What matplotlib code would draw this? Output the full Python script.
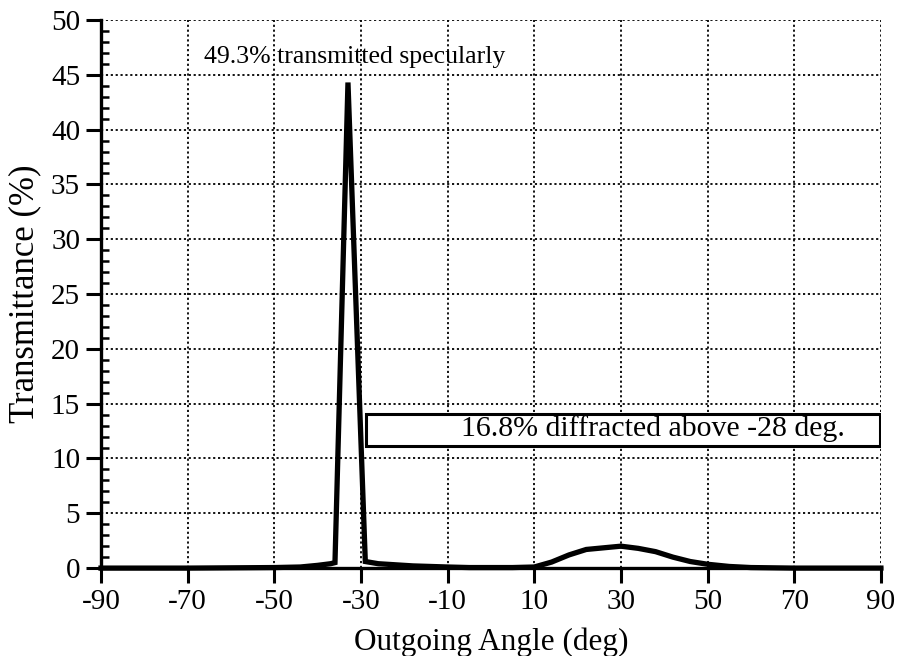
import numpy as np
import matplotlib.pyplot as plt
from matplotlib.patches import Rectangle
from matplotlib.ticker import MultipleLocator

plt.rcParams['font.family'] = ['Liberation Serif', 'DejaVu Serif']
plt.rcParams['axes.unicode_minus'] = False

# outgoing angle (deg) and transmittance (%)
angle = [-90, -70, -50, -44, -40, -37, -36, -33, -29, -26, -22, -18, -14, -10,
         -5, 0, 5, 10, 14, 18, 22, 26, 30, 34, 38, 42, 46, 50, 55, 60, 70, 80, 90]
trans = [0.0, 0.0, 0.05, 0.1, 0.25, 0.4, 0.5, 44.3, 0.6, 0.4, 0.3, 0.2, 0.15, 0.1,
         0.05, 0.05, 0.05, 0.1, 0.55, 1.2, 1.7, 1.85, 2.0, 1.8, 1.5, 1.0, 0.6, 0.35, 0.15, 0.05, 0.0, 0.0, 0.0]

xticks = [-90, -70, -50, -30, -10, 10, 30, 50, 70, 90]
yticks = [0, 5, 10, 15, 20, 25, 30, 35, 40, 45, 50]

fig = plt.figure(figsize=(9.1, 6.56), dpi=100)
ax = fig.add_axes([0.111, 0.134, 0.857, 0.8355])

ax.plot(angle, trans, 'k-', linewidth=3.8, solid_joinstyle='miter', zorder=5, clip_on=False)

ax.set_xlim(-90, 90)
ax.set_ylim(0, 50)
ax.set_xticks(xticks)
ax.set_yticks(yticks)
ax.yaxis.set_minor_locator(MultipleLocator(1))
ax.grid(True, which='major', color='black', linestyle=(0, (1.2, 1.5)), linewidth=1.3)

for s in ['top', 'right']:
    ax.spines[s].set_visible(False)
ax.spines['left'].set_linewidth(2.4)
ax.spines['bottom'].set_linewidth(2.4)

ax.tick_params(axis='both', which='major', labelsize=21, direction='out', length=11, width=2.2, pad=4)
ax.tick_params(axis='y', which='minor', direction='in', length=6, width=1.8)
ax.tick_params(axis='x', which='minor', length=0)

ax.set_xlabel('Outgoing Angle (deg)', fontsize=22.5, labelpad=9)
ax.set_ylabel('Transmittance (%)', fontsize=25, labelpad=7)

ax.text(-31.5, 46.6, '49.3% transmitted specularly', fontsize=18.5, ha='center', va='center')

ax.add_patch(Rectangle((-28.8, 11.1), 118.6, 3.0, fill=True, facecolor='white',
                       edgecolor='black', linewidth=2.2, zorder=6))
ax.text(37.5, 12.7, '16.8% diffracted above -28 deg.', fontsize=21.5, ha='center', va='center', zorder=7)

plt.savefig('out.png', dpi=100)
